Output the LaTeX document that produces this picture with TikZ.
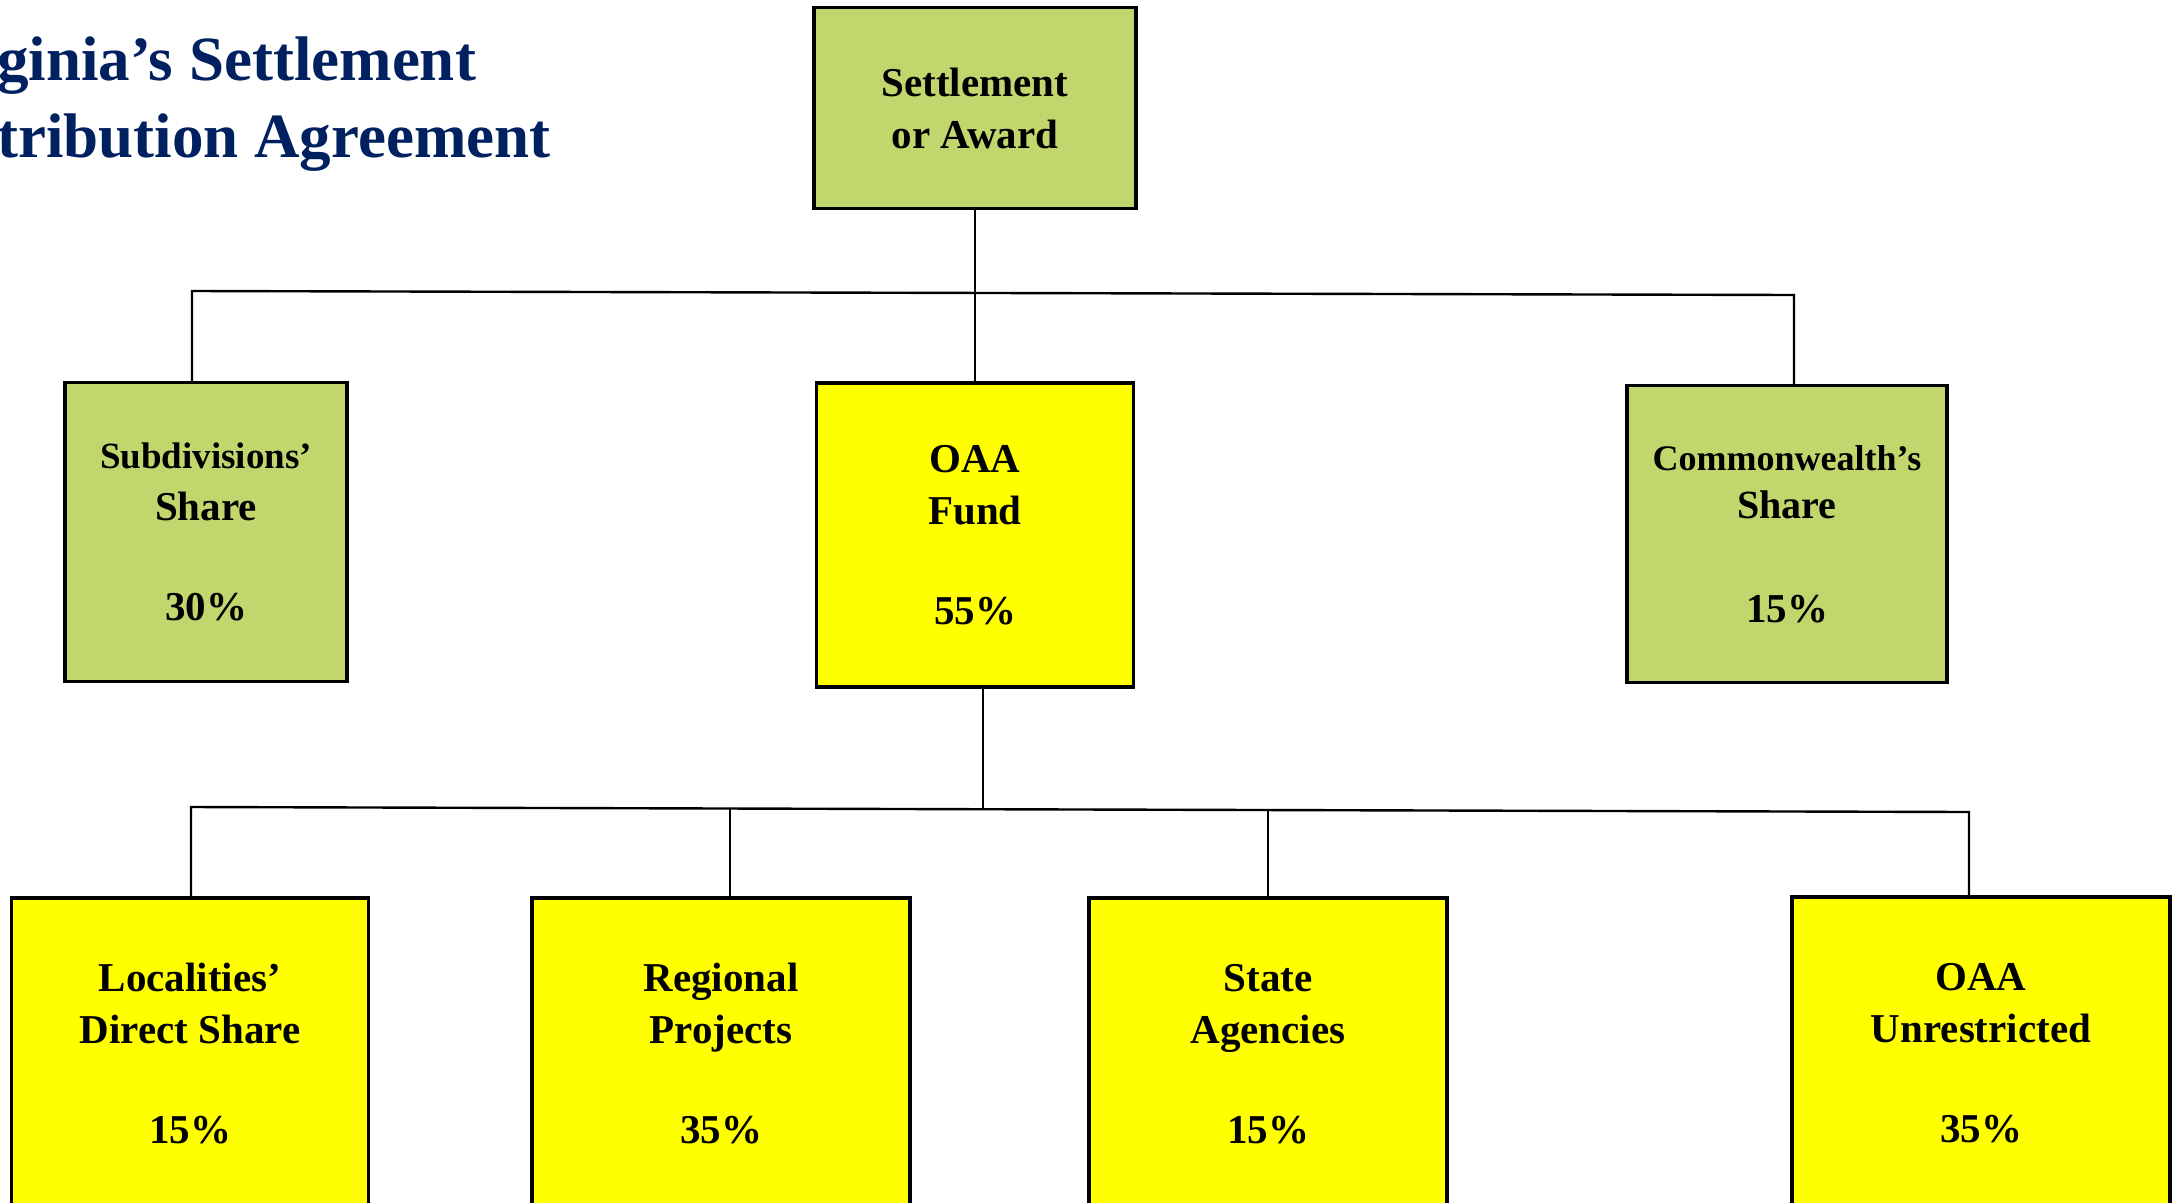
\documentclass[tikz,border=0pt]{standalone}
\usepackage{fontspec}
\setmainfont{Liberation Serif}
\definecolor{titleblue}{RGB}{0,32,96}
\definecolor{sharegreen}{RGB}{194,214,110}
\definecolor{fundyellow}{RGB}{255,255,0}

\begin{document}
\begin{tikzpicture}[x=1pt,y=-1pt,line cap=round]
	\tikzstyle{box}=[draw=black,line width=3.2pt,align=center,inner sep=0pt,font=\bfseries\fontsize{41}{52}\selectfont];
	\tikzstyle{greenbox}=[box,fill=sharegreen];
	\tikzstyle{yellowbox}=[box,fill=fundyellow];
	\tikzstyle{wire}=[line width=2.4pt];
	\tikzstyle{heading}=[anchor=base west,inner sep=0pt,text=titleblue,font=\bfseries\fontsize{63}{75}\selectfont];

	\useasboundingbox (0,0) rectangle (2184,1202);

	\node[heading] (titlea) at (-3,80) {ginia’s Settlement};
	\node[heading] (titleb) at (-3,157) {tribution Agreement};

	% top and first split
	\node[greenbox,minimum width=322,minimum height=201] (award) at (975,108) {Settlement\\or Award};
	\node[greenbox,minimum width=282,minimum height=299] (subdiv) at (206,532) {{\fontsize{37}{52}\selectfont Subdivisions’}\\Share\\[48pt]30\%};
	\node[yellowbox,minimum width=317,minimum height=304] (oaafund) at (975,535) {OAA\\Fund\\[48pt]55\%};
	\node[greenbox,minimum width=320,minimum height=297] (cwealth) at (1787,534) {{\fontsize{36}{48}\selectfont Commonwealth’s}\\[-4pt]{\fontsize{40}{48}\selectfont Share}\\[52pt]15\%};

	% second split
	\node[yellowbox,minimum width=357,minimum height=312] (local) at (190,1054) {Localities’\\Direct Share\\[48pt]15\%};
	\node[yellowbox,minimum width=378,minimum height=312] (regional) at (721,1054) {Regional\\Projects\\[48pt]35\%};
	\node[yellowbox,minimum width=358,minimum height=312] (state) at (1268,1054) {State\\Agencies\\[48pt]15\%};
	\node[yellowbox,minimum width=378,minimum height=312] (unrestr) at (1981,1053) {OAA\\Unrestricted\\[48pt]35\%};

	\coordinate (busa) at (192,291);
	\coordinate (busb) at (1794,295);
	\draw[wire] (award) -- (oaafund);
	\draw[wire] (subdiv.north -| busa) -- (busa) -- (busb) -- (cwealth.north -| busb);

	\coordinate (hub) at (983,809);
	\coordinate (busc) at (191,807);
	\coordinate (busd) at (1969,812);
	\coordinate (dropb) at (730,809);
	\coordinate (dropc) at (1268,810);
	\draw[wire] (oaafund.south -| hub) -- (hub);
	\draw[wire] (local.north -| busc) -- (busc) -- (busd) -- (unrestr.north -| busd);
	\draw[wire] (dropb) -- (dropb |- regional.north);
	\draw[wire] (dropc) -- (dropc |- state.north);
\end{tikzpicture}
\end{document}
